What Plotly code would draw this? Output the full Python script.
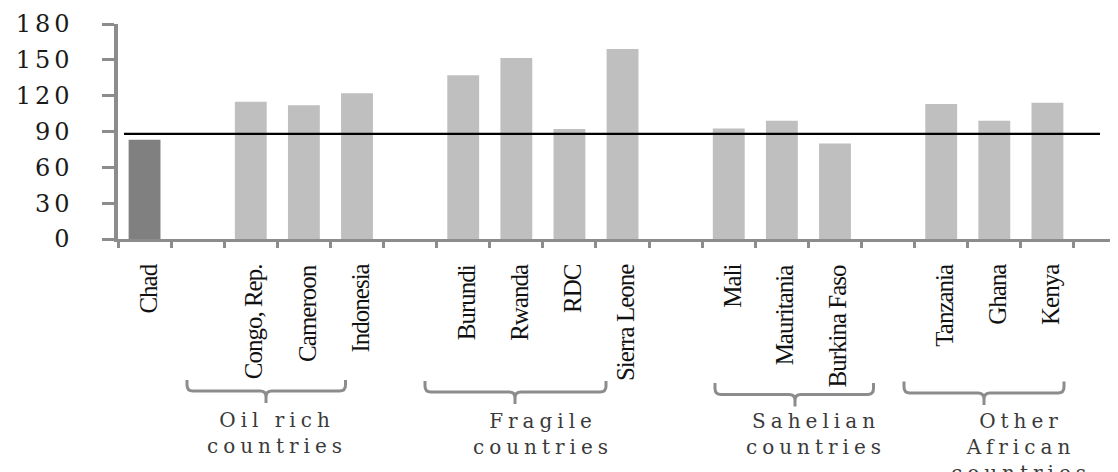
import plotly.graph_objects as go

# ---------------- data ----------------
countries = ["Chad", " ", "Congo, Rep.", "Cameroon", "Indonesia", "  ",
             "Burundi", "Rwanda", "RDC", "Sierra Leone", "   ",
             "Mali", "Mauritania", "Burkina Faso", "    ",
             "Tanzania", "Ghana", "Kenya"]
values = [83, None, 115, 112, 122, None,
          137, 151.5, 92, 159, None,
          92.5, 99, 80, None,
          113, 99, 114]
reference_value = 88
y_ticks = [0, 30, 60, 90, 120, 150, 180]
group_lines = [["Oil rich", "countries"],
               ["Fragile", "countries"],
               ["Sahelian", "countries"],
               ["Other", "African", "countries"]]

# ---------------- layout constants (pixels) ----------------
OFF = 8                      # page body margin
W, H = 1110, 464             # figure size (fits the window with the body margin)
L, T = 118 - OFF, 24 - OFF   # plot area left / top in figure pixels
R = 0
B = H - (239 - OFF)
PW, PH = W - L - R, H - T - B
CAT_PX = 53.11
x_max = -0.5 + PW / CAT_PX


def px(x):
    """screen x -> paper"""
    return (x - OFF - L) / PW


def py(y):
    """screen y -> paper"""
    return (H - B - (y - OFF)) / PH


def spaced(txt, ls):
    return f'<span style="letter-spacing:{ls}px">{txt}</span>'


colors = ["#808080" if c == "Chad" else "#bfbfbf" for c in countries]

fig = go.Figure()
fig.add_trace(go.Bar(x=countries, y=values, marker=dict(color=colors, line=dict(width=0)),
                     width=0.6, hoverinfo="x+y"))

# reference line
fig.add_shape(type="line", xref="paper", yref="y", x0=px(124), x1=px(1100),
              y0=reference_value, y1=reference_value,
              line=dict(color="#000000", width=2.2))

# rotated country labels
for c in countries:
    if c.strip():
        fig.add_annotation(text=spaced(c, -1), x=c, xref="x", y=py(262), yref="paper",
                           xanchor="center", yanchor="top", textangle=-90,
                           showarrow=False, xshift=3,
                           font=dict(family="Liberation Serif", size=25, color="#111111"))

# braces: (left, right, stem, top, mid, bottom) in screen pixels
braces = [(187, 345.5, 266, 380, 391, 403),
          (425, 606, 515, 381, 392, 404),
          (715, 873.5, 795, 383, 394.5, 406.5),
          (904, 1064, 984, 381.5, 393, 405)]
r = 6


def P(a, b):
    return f"{px(a):.5f},{py(b):.5f}"


for (x0, x1, s, yt, ym, yb) in braces:
    path = (f"M {P(x0, yt)} L {P(x0, ym - r)} Q {P(x0, ym)} {P(x0 + r, ym)} "
            f"L {P(s - r, ym)} Q {P(s, ym)} {P(s, ym + r)} L {P(s, yb)} "
            f"M {P(s, ym + r)} Q {P(s, ym)} {P(s + r, ym)} "
            f"L {P(x1 - r, ym)} Q {P(x1, ym)} {P(x1, ym - r)} L {P(x1, yt)}")
    fig.add_shape(type="path", xref="paper", yref="paper", path=path,
                  line=dict(color="#8c8c8c", width=3))

# group labels: (x center, y of first line) in screen pixels
label_pos = [(277, 420), (543, 420.5), (816, 420.5), (1021, 421)]
FS = 20
LS = 1.3 * FS
for lines, (x, y) in zip(group_lines, label_pos):
    n = len(lines)
    yc = y + (n - 1) * LS / 2
    fig.add_annotation(text="<br>".join(spaced(t, 5) for t in lines),
                       xref="paper", yref="paper", x=px(x), y=py(yc),
                       xanchor="center", yanchor="middle", showarrow=False, align="center",
                       font=dict(family="DejaVu Serif", size=FS, color="#3a3a3a"))

fig.update_layout(
    width=W, height=H,
    margin=dict(l=L, r=R, t=T, b=B, pad=0, autoexpand=False),
    plot_bgcolor="white", paper_bgcolor="white",
    showlegend=False,
    bargap=0.4,
    xaxis=dict(
        type="category", categoryorder="array", categoryarray=countries,
        range=[-0.5, x_max], tickson="boundaries", automargin=False,
        ticks="outside", ticklen=6, tickwidth=2.5, tickcolor="#8c8c8c",
        showline=True, linecolor="#8c8c8c", linewidth=2.5,
        showgrid=False, zeroline=False, showticklabels=False,
    ),
    yaxis=dict(
        range=[0, 180], tickmode="array", tickvals=y_ticks,
        ticktext=[spaced(str(v), 4) for v in y_ticks], automargin=False,
        ticks="outside", ticklen=12, tickwidth=2.5, tickcolor="#8c8c8c",
        showline=True, linecolor="#8c8c8c", linewidth=3.5,
        showgrid=False, zeroline=False, ticklabelstandoff=24,
        tickfont=dict(family="DejaVu Serif", size=24, color="#1a1a1a"),
    ),
)

fig.write_html("out.html")
